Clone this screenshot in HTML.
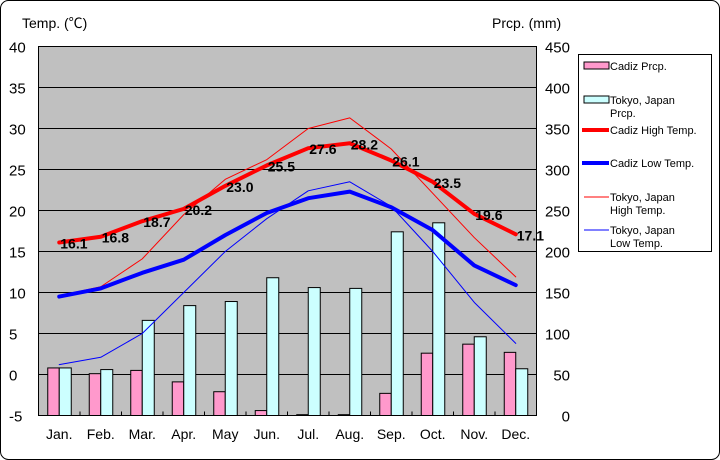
<!DOCTYPE html>
<html><head><meta charset="utf-8"><style>
body{margin:0;background:#fff;}
svg{display:block;font-family:"Liberation Sans","Noto Sans CJK JP",sans-serif;}
</style></head><body>
<svg id="c" width="720" height="460" xmlns="http://www.w3.org/2000/svg">
<rect x="0.5" y="0.5" width="719" height="459" rx="8" fill="#fff" stroke="#000"/>
<rect x="38.5" y="46.5" width="498" height="369" fill="#c0c0c0" stroke="#000"/>
<text x="22" y="28" font-size="14">Temp. (℃)</text>
<text x="492" y="28" font-size="14">Prcp. (mm)</text>
<g id="grid"></g><g id="bars"></g><g id="lines"></g><g id="labels"></g><g id="axes"></g>
<g>
<rect x="578.5" y="54.5" width="133" height="197" fill="#fff" stroke="#000"/>
<rect x="584" y="62" width="25" height="7" fill="#ff99cc" stroke="#000"/>
<text x="610" y="70" font-size="11">Cadiz Prcp.</text>
<rect x="584" y="96" width="25" height="7" fill="#ccffff" stroke="#000"/>
<text x="610" y="104" font-size="11"><tspan x="610">Tokyo, Japan</tspan><tspan x="610" dy="13">Prcp.</tspan></text>
<line x1="582" y1="130" x2="609" y2="130" stroke="#f00" stroke-width="4"/>
<text x="610" y="134" font-size="11">Cadiz High Temp.</text>
<line x1="582" y1="163" x2="609" y2="163" stroke="#00f" stroke-width="4"/>
<text x="610" y="167" font-size="11">Cadiz Low Temp.</text>
<line x1="584" y1="197" x2="609" y2="197" stroke="#f00" stroke-width="1"/>
<text x="610" y="201" font-size="11"><tspan x="610">Tokyo, Japan</tspan><tspan x="610" dy="13">High Temp.</tspan></text>
<line x1="584" y1="230" x2="609" y2="230" stroke="#00f" stroke-width="1"/>
<text x="610" y="234" font-size="11"><tspan x="610">Tokyo, Japan</tspan><tspan x="610" dy="13">Low Temp.</tspan></text>
</g>
</svg>
<script>
const months=["Jan.","Feb.","Mar.","Apr.","May","Jun.","Jul.","Aug.","Sep.","Oct.","Nov.","Dec."];
const cadizPrcp=[58,51,55,41,29,6,1,1,27,76,87,77];
const tokyoPrcp=[58,56,116,134,139,168,156,155,224,235,96,57];
const cadizHigh=[16.1,16.8,18.7,20.2,23.0,25.5,27.6,28.2,26.1,23.5,19.6,17.1];
const cadizLow=[9.5,10.5,12.4,14.0,17.0,19.7,21.5,22.3,20.4,17.6,13.3,10.9];
const tokyoHigh=[9.6,10.7,14.1,19.5,23.8,26.2,30.0,31.3,27.5,22.1,16.7,11.9];
const tokyoLow=[1.2,2.1,5.0,10.0,15.0,19.0,22.4,23.5,20.5,15.0,8.8,3.8];
const tempTicks=[40,35,30,25,20,15,10,5,0,-5];
const prcpTicks=[450,400,350,300,250,200,150,100,50,0];
const NS="http://www.w3.org/2000/svg";
const L=38.5,R=536.5,T=46.5,B=415.5;
const xC=i=>L+(R-L)/12*(i+0.5);
const yT=t=>T+(40-t)/45*(B-T);
const yP=p=>B-p/450*(B-T);
function mk(tag,attrs,parent){const e=document.createElementNS(NS,tag);for(const k in attrs)e.setAttribute(k,attrs[k]);document.getElementById(parent).appendChild(e);return e;}
tempTicks.forEach((t,i)=>{
 if(t<40&&t>-5){const g=mk("line",{x1:L,x2:R,y1:yT(t),y2:yT(t),stroke:"#000"},"grid");
 
 }
 const a=mk("text",{x:9,y:yT(t)+6,"font-size":15},"axes");a.textContent=t;
 
 
});
prcpTicks.forEach(p=>{
 const a=mk("text",{x:570,y:yP(p)+6,"font-size":15,"text-anchor":"end"},"axes");a.textContent=p;
 
 
});
months.forEach((m,i)=>{
 const a=mk("text",{x:xC(i),y:439,"font-size":14,"text-anchor":"middle"},"axes");a.textContent=m;
 
 
 if(i>0){const tk=mk("line",{x1:L+(R-L)/12*i,x2:L+(R-L)/12*i,y1:B-4,y2:B,stroke:"#000"},"axes");
 
 }
 const b1=mk("rect",{x:xC(i)-11.5,y:yP(cadizPrcp[i]),width:11.5,height:B-yP(cadizPrcp[i]),fill:"#ff99cc",stroke:"#000"},"bars");
 
 
 const b2=mk("rect",{x:xC(i),y:yP(tokyoPrcp[i]),width:12,height:B-yP(tokyoPrcp[i]),fill:"#ccffff",stroke:"#000"},"bars");
 
 
});
function line(data,color,w,name){
 const pts=data.map((v,i)=>xC(i)+","+yT(v)).join(" ");
 const p=mk("polyline",{points:pts,fill:"none",stroke:color,"stroke-width":w,"stroke-linejoin":"round","stroke-linecap":"round"},"lines");
 
 
}
line(tokyoHigh,"#f00",1,"line-tokyo-high");
line(tokyoLow,"#00f",1,"line-tokyo-low");
line(cadizHigh,"#f00",4,"line-cadiz-high");
line(cadizLow,"#00f",4,"line-cadiz-low");
cadizHigh.forEach((v,i)=>{
 const t=mk("text",{x:xC(i)+1,y:yT(v)+6,"font-size":14,"font-weight":"bold"},"labels");t.textContent=v.toFixed(1);
 
 
});
</script>
</body></html>
